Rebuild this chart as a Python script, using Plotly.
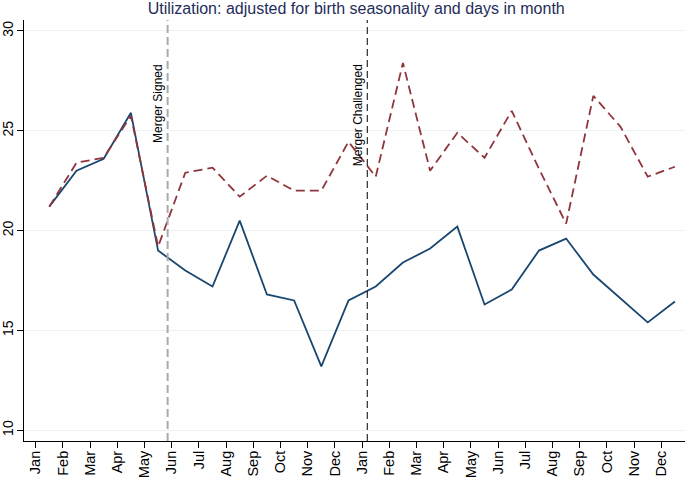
import numpy as np
import plotly.graph_objects as go

# Month tick labels (two years)
months = ["Jan", "Feb", "Mar", "Apr", "May", "Jun", "Jul", "Aug", "Sep", "Oct", "Nov", "Dec"] * 2

# Series values (monthly, plotted mid-month)
actual = [21.2, 23.0, 23.6, 25.9, 19.0, 18.0, 17.2, 20.5, 16.8, 16.5, 13.2, 16.5,
          17.2, 18.4, 19.1, 20.2, 16.3, 17.05, 19.0, 19.6, 17.8, 16.6, 15.4, 16.45]
counterfactual = [21.2, 23.4, 23.65, 25.75, 19.2, 22.9, 23.15, 21.7, 22.75, 22.0, 22.0, 24.45,
                  22.7, 28.4, 23.0, 24.9, 23.65, 26.0, 23.1, 20.35, 26.75, 25.2, 22.7, 23.2]

# Events (month position, label)
event_x = [4.85, 12.19]
event_labels = ["Merger Signed", "Merger Challenged"]

tick_pos = np.arange(len(months))
x_mid = tick_pos + 0.5

FONT = "Liberation Sans, Arial, sans-serif"
fig = go.Figure()
fig.add_trace(go.Scatter(x=x_mid, y=actual, mode="lines",
                         line=dict(color="#1a476f", width=1.8), showlegend=False))
fig.add_trace(go.Scatter(x=x_mid, y=counterfactual, mode="lines",
                         line=dict(color="#90353b", width=1.8, dash="9px,5px"), showlegend=False))

styles = [dict(color="#aaaaaa", width=2, dash="8px,4px"),
          dict(color="#000000", width=1, dash="7px,4px")]
for ex, lab, st in zip(event_x, event_labels, styles):
    fig.add_shape(type="line", xref="x", yref="paper", x0=ex, x1=ex, y0=0, y1=1, line=st)
    fig.add_annotation(x=ex, xref="x", y=28.45, yref="y", text=lab, textangle=-90,
                       showarrow=False, xanchor="right", yanchor="top", xshift=0,
                       font=dict(family=FONT, size=12, color="#000000"))

fig.update_layout(
    width=685, height=480,
    margin=dict(l=24, r=0, t=20, b=39, autoexpand=False),
    paper_bgcolor="white", plot_bgcolor="white",
    title=dict(text="Utilization: adjusted for birth seasonality and days in month",
               x=0.52, xanchor="center", y=0.982, yanchor="middle",
               font=dict(family=FONT, size=16, color="#1f2d5a")),
    font=dict(family=FONT, size=14.5, color="#000000"),
)
fig.update_xaxes(range=[-0.43, 23.87], tickmode="array", tickvals=tick_pos, ticktext=months,
                 tickangle=-90, ticks="outside", ticklen=6, tickcolor="#000000",
                 showline=True, linecolor="#000000", linewidth=1, showgrid=False,
                 zeroline=False, automargin=False, ticklabelstandoff=-3,
                 tickfont=dict(family=FONT, size=14.5))
fig.update_yaxes(range=[9.46, 30.55], tickmode="array", tickvals=[10, 15, 20, 25, 30],
                 tickangle=-90, ticks="outside", ticklen=6, tickcolor="#000000",
                 showline=True, linecolor="#000000", linewidth=1, showgrid=True,
                 gridcolor="#eaf2f3", gridwidth=1, zeroline=False, automargin=False,
                 ticklabelstandoff=-2, tickfont=dict(family=FONT, size=14))

fig.write_html("out.html", config={"displayModeBar": False},
               post_script="document.body.style.margin='0';document.body.style.padding='0';"
                           "document.body.style.overflow='hidden';")
